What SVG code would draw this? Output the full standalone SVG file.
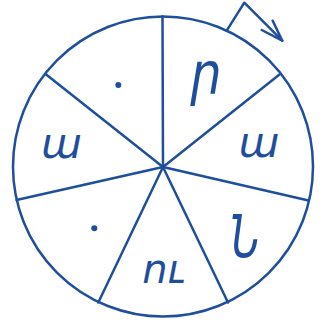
<svg xmlns="http://www.w3.org/2000/svg" width="326" height="327" viewBox="0 0 326 327">
<style>
.ln{fill:none;stroke:#1f4e9c;stroke-width:2.5;stroke-linecap:round;stroke-linejoin:round}
.lt{font-family:"DejaVu Sans ExtraLight","DejaVu Sans",sans-serif;font-style:italic;font-weight:200;fill:#1f4e9c;text-anchor:middle}
.dot{fill:#1f4e9c}
</style>
<g id="wheel">
<circle class="ln" cx="163" cy="166.5" r="150"/>
</g>
<g id="connectors">
<line class="ln" x1="163" y1="167" x2="162.5" y2="16.5"/>
<line class="ln" x1="163" y1="167" x2="279.5" y2="74.5"/>
<line class="ln" x1="163" y1="167" x2="308.5" y2="200.5"/>
<line class="ln" x1="163" y1="167" x2="228" y2="302.5"/>
<line class="ln" x1="163" y1="167" x2="98.3" y2="302.5"/>
<line class="ln" x1="163" y1="167" x2="16.5" y2="200"/>
<line class="ln" x1="163" y1="167" x2="45.5" y2="74"/>
<polyline class="ln" points="226.7,30.7 244.3,2.7 282.3,40.7"/>
<polyline class="ln" points="261.7,30 282.3,40.7 272.7,20.7"/>
</g>
<g id="s1"><text class="lt" transform="translate(206,94) scale(0.85,1)" font-size="58">ր</text></g>
<g id="s2"><text class="lt" x="259" y="157" font-size="42">ա</text></g>
<g id="s3"><text class="lt" transform="translate(245,257) scale(0.7,1)" font-size="58">Ն</text></g>
<g id="s4"><text class="lt" x="163.5" y="283" font-size="40">ու</text></g>
<g id="s5"><circle class="dot" cx="94.3" cy="228.3" r="3"/></g>
<g id="s6"><text class="lt" x="61.5" y="158" font-size="42">ա</text></g>
<g id="s7"><circle class="dot" cx="118.3" cy="85" r="3"/></g>
</svg>
